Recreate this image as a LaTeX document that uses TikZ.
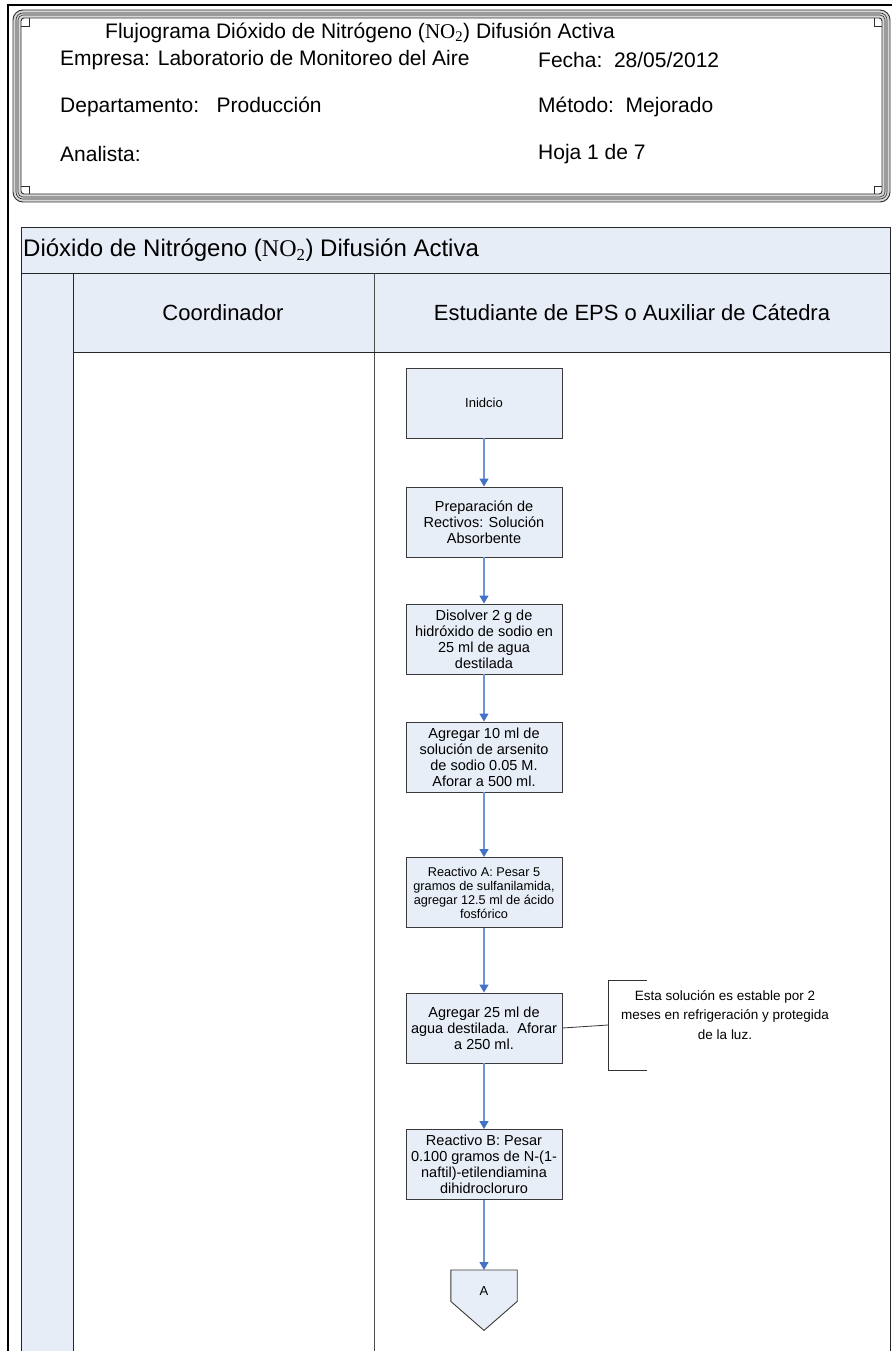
\documentclass[tikz,border=0pt]{standalone}
\usepackage{fontspec}
\setmainfont{Liberation Sans}
\newfontfamily\chemfont{Liberation Serif}
\usetikzlibrary{arrows.meta,calc}
\definecolor{laneblue}{HTML}{E7EDF6}
\definecolor{boxfill}{HTML}{E8EEF7}
\definecolor{boxline}{HTML}{3A3A3A}
\definecolor{flowline}{HTML}{6E96D2}
\definecolor{flowhead}{HTML}{4472C4}
\definecolor{bandgray}{HTML}{D6D6D6}
\definecolor{frameline}{HTML}{303030}
\newcommand{\notwo}{{\chemfont NO\textsubscript{2}}}
\begin{document}
\begin{tikzpicture}[x=1pt,y=-1pt,
  proc/.style={draw=boxline, line width=0.9, fill=boxfill, minimum width=156,
    minimum height=70, inner sep=0, align=center,
    font=\fontsize{14.5}{16}\selectfont},
  flow/.style={draw=flowline, line width=1.1,
    -{Triangle[width=9,length=8,fill=flowhead,color=flowhead]}},
  hdr/.style={anchor=west, inner sep=0, font=\fontsize{21}{25}\selectfont},
  lane/.style={inner sep=0, font=\fontsize{22}{26}\selectfont},
  poolline/.style={draw=black!85, line width=0.9},
  noteline/.style={draw=black!80, line width=0.8},
  framel/.style={draw=frameline, line width=0.9}]
\useasboundingbox (0,0) rectangle (892,1351);

% page border
\draw[line width=2] (8,1351) -- (8,5) -- (892,5);

% decorative frame of the title block
\draw[bandgray, line width=8, rounded corners=6] (17,14) rectangle (886,198);
\draw[framel, rounded corners=10] (13,10) rectangle (890,202);
\draw[framel, line width=0.6, rounded corners=7] (16,13) rectangle (887,199);
\draw[framel, line width=0.6, rounded corners=5] (18,15) rectangle (885,197);
\draw[framel, rounded corners=3] (21,18) rectangle (882,194);
% small corner loops
\draw[framel, line width=0.7] (21,26) -- (29,26) -- (29,18);
\draw[framel, line width=0.7] (882,26) -- (874,26) -- (874,18);
\draw[framel, line width=0.7] (21,186) -- (29,186) -- (29,194);
\draw[framel, line width=0.7] (882,186) -- (874,186) -- (874,194);

% title block texts
\node[hdr] (ttl) at (105,33) {Flujograma Dióxido de Nitrógeno (\notwo) Difusión Activa};
\node[hdr] (emp) at (60,60) {Empresa: Laboratorio de Monitoreo del Aire};
\node[hdr] (fec) at (538,60) {Fecha:\ \ 28/05/2012};
\node[hdr] (dep) at (60,107) {Departamento:\ \ \ Producción};
\node[hdr] (met) at (538,107) {Método:\ \ Mejorado};
\node[hdr] (ana) at (60,154) {Analista:};
\node[hdr] (hoj) at (538,154) {Hoja 1 de 7};

% swimlane pool
\fill[laneblue] (21,227) rectangle (890,352);
\fill[laneblue] (21,352) rectangle (73,1351);
\draw[poolline] (21,1351) -- (21,227) -- (890,227) -- (890,1351);
\draw[poolline] (21,273) -- (890,273);
\draw[poolline] (73,273) -- (73,1351);
\draw[poolline, draw=black!70] (374,273) -- (374,1351);
\draw[poolline] (73,352) -- (890,352);

\node[anchor=west, inner sep=0, font=\fontsize{24}{28}\selectfont] (pool) at (23,250)
  {Dióxido de Nitrógeno (\notwo) Difusión Activa};
\node[lane] (coord) at (223,313) {Coordinador};
\node[lane] (estud) at (632,313) {Estudiante de EPS o Auxiliar de Cátedra};

% process steps
\node[proc, font=\fontsize{13}{15}\selectfont] (b1) at (484,403) {Inidcio};
\node[proc] (b2) at (484,522) {Preparación de\\Rectivos: Solución\\Absorbente};
\node[proc] (b3) at (484,639) {Disolver 2 g de\\hidróxido de sodio en\\25 ml de agua\\destilada};
\node[proc] (b4) at (484,757) {Agregar 10 ml de\\solución de arsenito\\de sodio 0.05 M.\\Aforar a 500 ml.};
\node[proc, font=\fontsize{12.7}{14}\selectfont] (b5) at (484,892.5)
  {Reactivo A: Pesar 5\\gramos de sulfanilamida,\\agregar 12.5 ml de ácido\\fosfórico};
\node[proc] (b6) at (484,1028) {Agregar 25 ml de\\agua destilada.\ \ Aforar\\a 250 ml.};
\node[proc] (b7) at (484,1164.5) {Reactivo B: Pesar\\0.100 gramos de N-(1-\\naftil)-etilendiamina\\dihidrocloruro};

% off-page connector
\node[inner sep=0, minimum width=66, minimum height=31, anchor=north] (conn) at (484,1270) {};
\filldraw[fill=boxfill, draw=boxline, line width=0.9]
  (conn.north west) -- (conn.north east) -- (conn.south east)
  -- ($(conn.south)+(0,29)$) -- (conn.south west) -- cycle;
\node[inner sep=0, font=\fontsize{13}{15}\selectfont] (connlbl) at (484,1291) {A};

% flow connectors
\draw[flow] (b1) -- (b2);
\draw[flow] (b2) -- (b3);
\draw[flow] (b3) -- (b4);
\draw[flow] (b4) -- (b5);
\draw[flow] (b5) -- (b6);
\draw[flow] (b6) -- (b7);
\draw[flow] (b7) -- (conn);

% annotation
\node[align=center, inner sep=0, font=\fontsize{13.5}{19.5}\selectfont] (note) at (725,1015)
  {Esta solución es estable por 2\\meses en refrigeración y protegida\\de la luz.};
\coordinate (brTop) at (647,980);
\coordinate (brMid) at (608,1025);
\coordinate (brBot) at (647,1070);
\draw[noteline] (brTop) -- (brTop -| brMid) -- (brBot -| brMid) -- (brBot);
\draw[noteline] (b6.east) -- (brMid);
\end{tikzpicture}
\end{document}
